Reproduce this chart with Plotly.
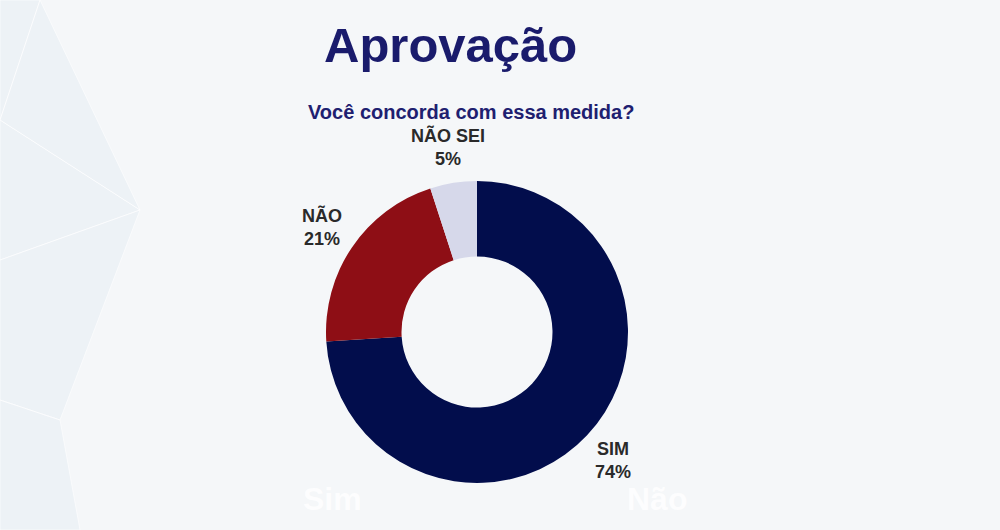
import math
import plotly.graph_objects as go

labels = ["SIM", "NÃO", "NÃO SEI"]
values = [74, 21, 5]
colors = ["#020D4C", "#8E0E15", "#D6D8EA"]

W, H = 1000, 530
cx, cy, R = 477, 332, 151
label_r = 187
FONT = "Liberation Sans, Arial, sans-serif"

fig = go.Figure()
fig.add_trace(go.Pie(
    labels=labels, values=values, hole=0.5, sort=False,
    direction="clockwise", rotation=0,
    marker=dict(colors=colors, line=dict(width=0)),
    textinfo="none", hoverinfo="label+percent", showlegend=False,
    domain=dict(x=[(cx - R) / W, (cx + R) / W],
                y=[(H - cy - R) / H, (H - cy + R) / H]),
))

annotations = []
total = sum(values)
cum = 0
for lab, v in zip(labels, values):
    mid = (cum + v / 2) / total * 2 * math.pi
    cum += v
    px = cx + label_r * math.sin(mid)
    py = cy - label_r * math.cos(mid)
    annotations.append(dict(
        x=px / W, y=1 - py / H, xref="paper", yref="paper",
        text=f"<b>{lab}<br>{v}%</b>", showarrow=False,
        font=dict(family=FONT, size=18, color="#2A2A2A"),
        align="center", xanchor="center", yanchor="middle"))

annotations += [
    dict(x=450 / W, y=1 - 45 / H, xref="paper", yref="paper",
         text="<b>Aprovação</b>", showarrow=False,
         font=dict(family=FONT, size=49, color="#1A1B6C"),
         xanchor="center", yanchor="middle"),
    dict(x=471 / W, y=1 - 112 / H, xref="paper", yref="paper",
         text="<b>Você concorda com essa medida?</b>", showarrow=False,
         font=dict(family=FONT, size=20, color="#1E2070"),
         xanchor="center", yanchor="middle"),
    dict(x=332 / W, y=1 - 499 / H, xref="paper", yref="paper",
         text="<b>Sim</b>", showarrow=False,
         font=dict(family=FONT, size=32, color="#FFFFFF"),
         xanchor="center", yanchor="middle", opacity=0.85),
    dict(x=657 / W, y=1 - 499 / H, xref="paper", yref="paper",
         text="<b>Não</b>", showarrow=False,
         font=dict(family=FONT, size=32, color="#FFFFFF"),
         xanchor="center", yanchor="middle", opacity=0.85),
]

# faint faceted background decoration (pixel-space polygons)
bg_polys = [
    "M 0 0 L 40 0 L 0 120 Z",
    "M 0 120 L 140 210 L 0 260 Z",
    "M 0 260 L 140 210 L 60 420 L 0 400 Z",
    "M 0 400 L 60 420 L 80 530 L 0 530 Z",
    "M 40 0 L 140 210 L 0 120 Z",
]

def to_paper(path):
    toks = path.split()
    out = []
    i = 0
    while i < len(toks):
        t = toks[i]
        if t in ("M", "L"):
            x = float(toks[i + 1]) / W
            y = 1 - float(toks[i + 2]) / H
            out.append(f"{t} {x:.4f} {y:.4f}")
            i += 3
        else:
            out.append(t)
            i += 1
    return " ".join(out)

shapes = []
for p in bg_polys:
    shapes.append(dict(type="path", path=to_paper(p), xref="paper", yref="paper",
                       fillcolor="rgba(215,228,240,0.25)",
                       line=dict(width=1, color="rgba(255,255,255,0.6)"),
                       layer="below"))

fig.update_layout(
    width=W, height=H,
    margin=dict(l=0, r=0, t=0, b=0),
    paper_bgcolor="#F5F7F9", plot_bgcolor="#F5F7F9",
    annotations=annotations, shapes=shapes,
)

fig.write_html("out.html", config={"displayModeBar": False},
               post_script="document.body.style.margin='0';document.body.style.background='#F5F7F9';")
